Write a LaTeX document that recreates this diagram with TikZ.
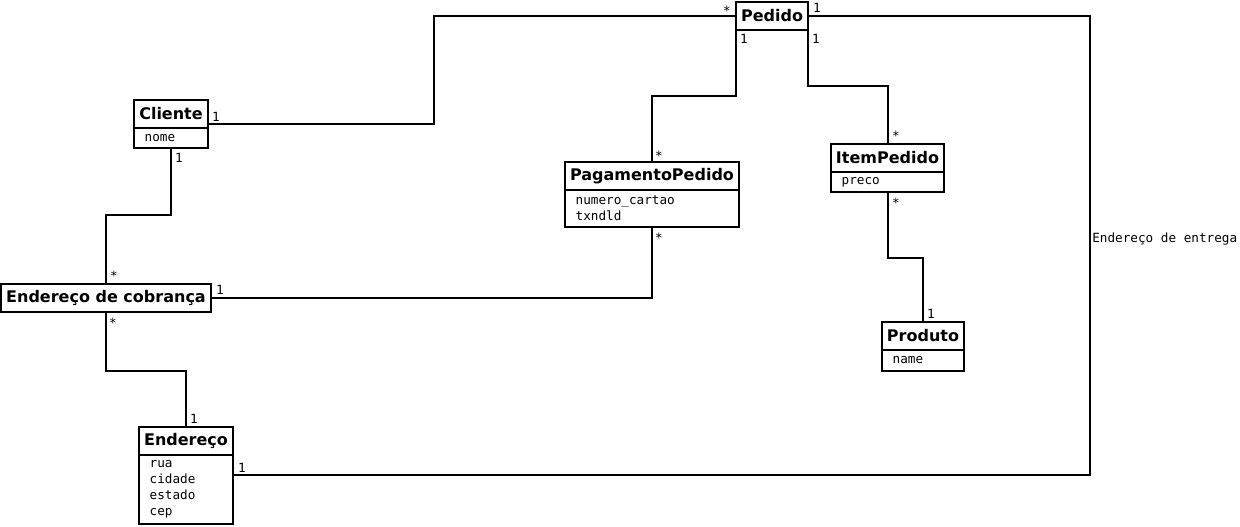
\documentclass[tikz,border=0pt]{standalone}
\usepackage{fontspec}
\setmainfont{DejaVu Sans}
\newfontfamily\monofont{DejaVu Sans Mono}
\newcommand{\titlefont}{\fontsize{12}{14}\selectfont\bfseries}
\newcommand{\attrfont}{\fontsize{9.5}{12}\selectfont\monofont}

\begin{document}
\begin{tikzpicture}[x=0.75pt, y=-0.75pt,
    box/.style={draw, line width=1.5pt, anchor=north west, outer sep=0pt},
    classname/.style={box, inner sep=0pt, minimum height=21pt, font=\titlefont},
    classattr/.style={box, inner xsep=8pt, inner ysep=0pt, align=left, font=\attrfont},
    mult/.style={anchor=base, inner sep=0pt, font=\attrfont},
    assoc/.style={line width=1.5pt}]
  \useasboundingbox (0,0) rectangle (1240,526);

  % classes
  \node[classname, minimum width=54pt] (pedido) at (736,2) {Pedido};

  \node[classname, minimum width=55.5pt] (cliente) at (134,100) {Cliente};
  \node[classattr, text width=39.5pt, minimum height=15pt] (clienteattr) at (cliente.south west) {nome};

  \node[classname, minimum width=130.5pt] (pagamento) at (565,162) {PagamentoPedido};
  \node[classattr, text width=114.5pt, minimum height=27.75pt] (pagamentoattr) at (pagamento.south west) {numero\_cartao\\txndld};

  \node[classname, minimum width=84.75pt] (item) at (831,144) {ItemPedido};
  \node[classattr, text width=68.75pt, minimum height=15pt] (itemattr) at (item.south west) {preco};

  \node[classname, minimum width=157.5pt] (cobranca) at (1,284) {Endereço de cobrança};

  \node[classname, minimum width=61.5pt] (produto) at (882,322) {Produto};
  \node[classattr, text width=45.5pt, minimum height=15.75pt] (produtoattr) at (produto.south west) {name};

  \node[classname, minimum width=70.5pt] (endereco) at (139,427) {Endereço};
  \node[classattr, text width=54.5pt, minimum height=51.75pt] (enderecoattr) at (endereco.south west) {rua\\cidade\\estado\\cep};

  % associations
  \draw[assoc] ([yshift=-7.5pt]cliente.east) -- ++(226,0) |- (pedido.west);
  \draw[assoc] (pedido.south west) -- ++(0,66) -| (pagamento.north);
  \draw[assoc] (pedido.south east) -- ++(0,56) -| (item.north);
  \draw[assoc] (pedido.east) -- ++(282,0) |- ([yshift=10.9pt]enderecoattr.east);
  \draw[assoc] (clienteattr.south) -- ++(0,67) -| (cobranca.north);
  \draw[assoc] (cobranca.east) -| (pagamentoattr.south);
  \draw[assoc] (cobranca.south) -- ++(0,59) -| (endereco.north);
  \draw[assoc] (itemattr.south) -- ++(0,66) -| (produto.north);

  % multiplicities
  \node[mult] (m-cli-ped) at (216,121) {1};
  \node[mult] (m-ped-cli) at (727,15) {*};
  \node[mult] (m-ped-end) at (817,12) {1};
  \node[mult] (m-ped-pag) at (744,43) {1};
  \node[mult] (m-ped-item) at (816,43) {1};
  \node[mult] (m-pag-ped) at (659,160) {*};
  \node[mult] (m-item-ped) at (896,140) {*};
  \node[mult] (m-item-prod) at (896,207) {*};
  \node[mult] (m-prod-item) at (931,318) {1};
  \node[mult] (m-cli-cob) at (179,162) {1};
  \node[mult] (m-cob-cli) at (114,280) {*};
  \node[mult] (m-cob-pag) at (220,294) {1};
  \node[mult] (m-cob-end) at (113,327) {*};
  \node[mult] (m-end-cob) at (194,423) {1};
  \node[mult] (m-end-ped) at (242,472) {1};
  \node[mult] (m-pag-cob) at (659,242) {*};

  % role name
  \node[mult, anchor=base west] (entrega) at (1092,242) {Endereço de entrega};
\end{tikzpicture}
\end{document}
